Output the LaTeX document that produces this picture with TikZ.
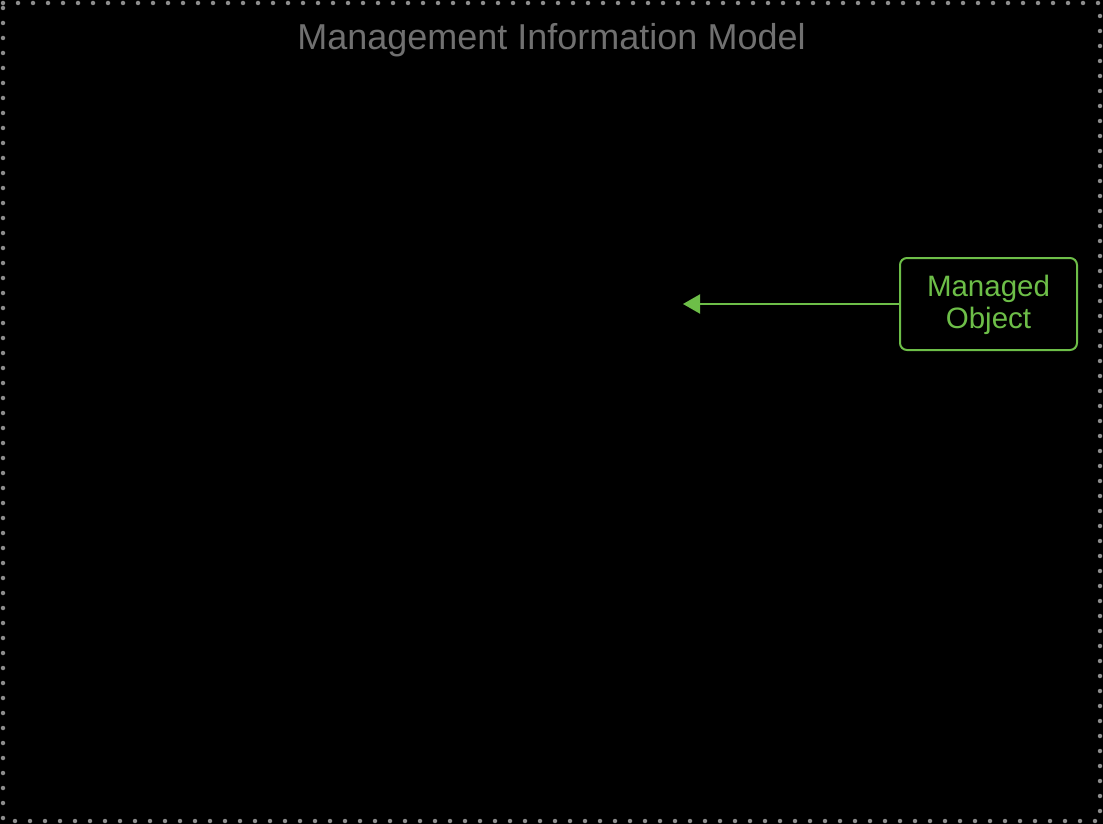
\documentclass[tikz,border=0pt]{standalone}
\usepackage{fontspec}
\setmainfont{Liberation Sans}
\usepackage{tikz}
\usetikzlibrary{positioning,arrows.meta}

\definecolor{mogreen}{RGB}{109,190,72}
\definecolor{titlegray}{RGB}{112,112,112}
\definecolor{dotgray}{RGB}{140,140,140}

\begin{document}
\begin{tikzpicture}[x=1pt,y=-1pt,
	modelbox/.style={draw=dotgray, line width=4.5pt, line cap=round, dash pattern=on 0pt off 15pt, dash phase=10pt},
	mobox/.style={draw=mogreen, line width=2pt, rounded corners=7pt, text=mogreen, align=center,
		minimum width=177pt, minimum height=92pt, font=\fontsize{29.5}{32}\selectfont}]
	\fill[black] (0, 0) rectangle (1103, 824);
	\useasboundingbox (0, 0) rectangle (1103, 824);
	\draw[modelbox] (3, 3) rectangle (1100, 821);

	\node[text=titlegray, anchor=base, font=\fontsize{36}{42}\selectfont] (title) at (551.5, 50) {Management Information Model};

	\node[mobox] (mo) at (988.5, 304) {\strut Managed\\Object};
	\coordinate (target) at (683, 304);

	% Arrow
	\draw[mogreen, line width=2pt, -{Triangle[length=17pt, width=19pt]}] (mo.west) -- (target);
\end{tikzpicture}
\end{document}
